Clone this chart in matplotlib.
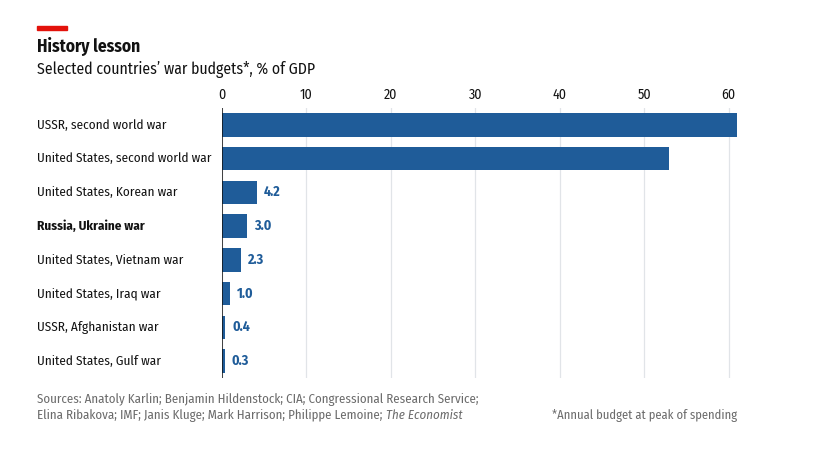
import matplotlib
matplotlib.use("Agg")
import matplotlib.pyplot as plt
from matplotlib.patches import Rectangle

plt.rcParams["font.family"] = ["Fira Sans Condensed", "Lato", "DejaVu Sans"]

labels = [
    "USSR, second world war",
    "United States, second world war",
    "United States, Korean war",
    "Russia, Ukraine war",
    "United States, Vietnam war",
    "United States, Iraq war",
    "USSR, Afghanistan war",
    "United States, Gulf war",
]
values = [61.0, 53.0, 4.2, 3.0, 2.3, 1.0, 0.4, 0.3]
value_labels = [None, None, "4.2", "3.0", "2.3", "1.0", "0.4", "0.3"]
highlight = "Russia, Ukraine war"
xticks = [0, 10, 20, 30, 40, 50, 60]

BLUE = "#1f5c99"
INK = "#121212"
GREY = "#6b6b6b"

fig = plt.figure(figsize=(8.29, 4.5), dpi=100)
ax = fig.add_axes([222 / 829, 1 - 378 / 450, (737 - 222) / 829, (378 - 108) / 450])

ypos = list(range(len(labels)))
ax.barh(ypos, values, height=0.7, color=BLUE, zorder=3)
for y, v, t in zip(ypos, values, value_labels):
    if t:
        ax.text(v + 0.8, y, t, va="center", ha="left", fontsize=10,
                fontweight="bold", color=BLUE, zorder=4)

ax.set_xlim(0, 61)
ax.set_ylim(len(labels) - 0.5, -0.5)
ax.set_xticks(xticks)
ax.xaxis.tick_top()
ax.tick_params(axis="x", length=0, pad=4, labelsize=10, colors=INK)
ax.set_yticks([])
ax.grid(axis="x", color="#e1e4e8", linewidth=0.9, zorder=0)
ax.axvline(0, color=INK, linewidth=1.1, zorder=5)
for s in ax.spines.values():
    s.set_visible(False)

# category labels, left-aligned with the title
for y, lab in zip(ypos, labels):
    ax.text(-(222 - 37) / (737 - 222) * 61, y, lab, va="center", ha="left",
            fontsize=9.5, color=INK,
            fontweight="bold" if lab == highlight else "normal")

fig.patches.append(Rectangle((37 / 829, 1 - 30 / 450), 30 / 829, 4 / 450,
                             transform=fig.transFigure, color="#e3120b"))
fig.text(37 / 829, 1 - 46 / 450, "History lesson", fontsize=12.5,
         fontweight="bold", va="center", ha="left", color=INK)
fig.text(37 / 829, 1 - 69 / 450, "Selected countries\u2019 war budgets*, % of GDP",
         fontsize=11.3, va="center", ha="left", color=INK)

fig.text(37 / 829, 1 - 399 / 450,
         "Sources: Anatoly Karlin; Benjamin Hildenstock; CIA; Congressional Research Service;",
         fontsize=9.3, va="center", ha="left", color=GREY)
src2 = fig.text(37 / 829, 1 - 415 / 450,
                "Elina Ribakova; IMF; Janis Kluge; Mark Harrison; Philippe Lemoine; ",
                fontsize=9.3, va="center", ha="left", color=GREY)
fig.canvas.draw()
bb = src2.get_window_extent()
fig.text(bb.x1 / fig.bbox.width, 1 - 415 / 450, "The Economist",
         fontsize=9.3, fontstyle="italic", va="center", ha="left", color=GREY)
fig.text(737 / 829, 1 - 415 / 450, "*Annual budget at peak of spending",
         fontsize=9, va="center", ha="right", color=GREY)

fig.savefig("out.png", dpi=100)
